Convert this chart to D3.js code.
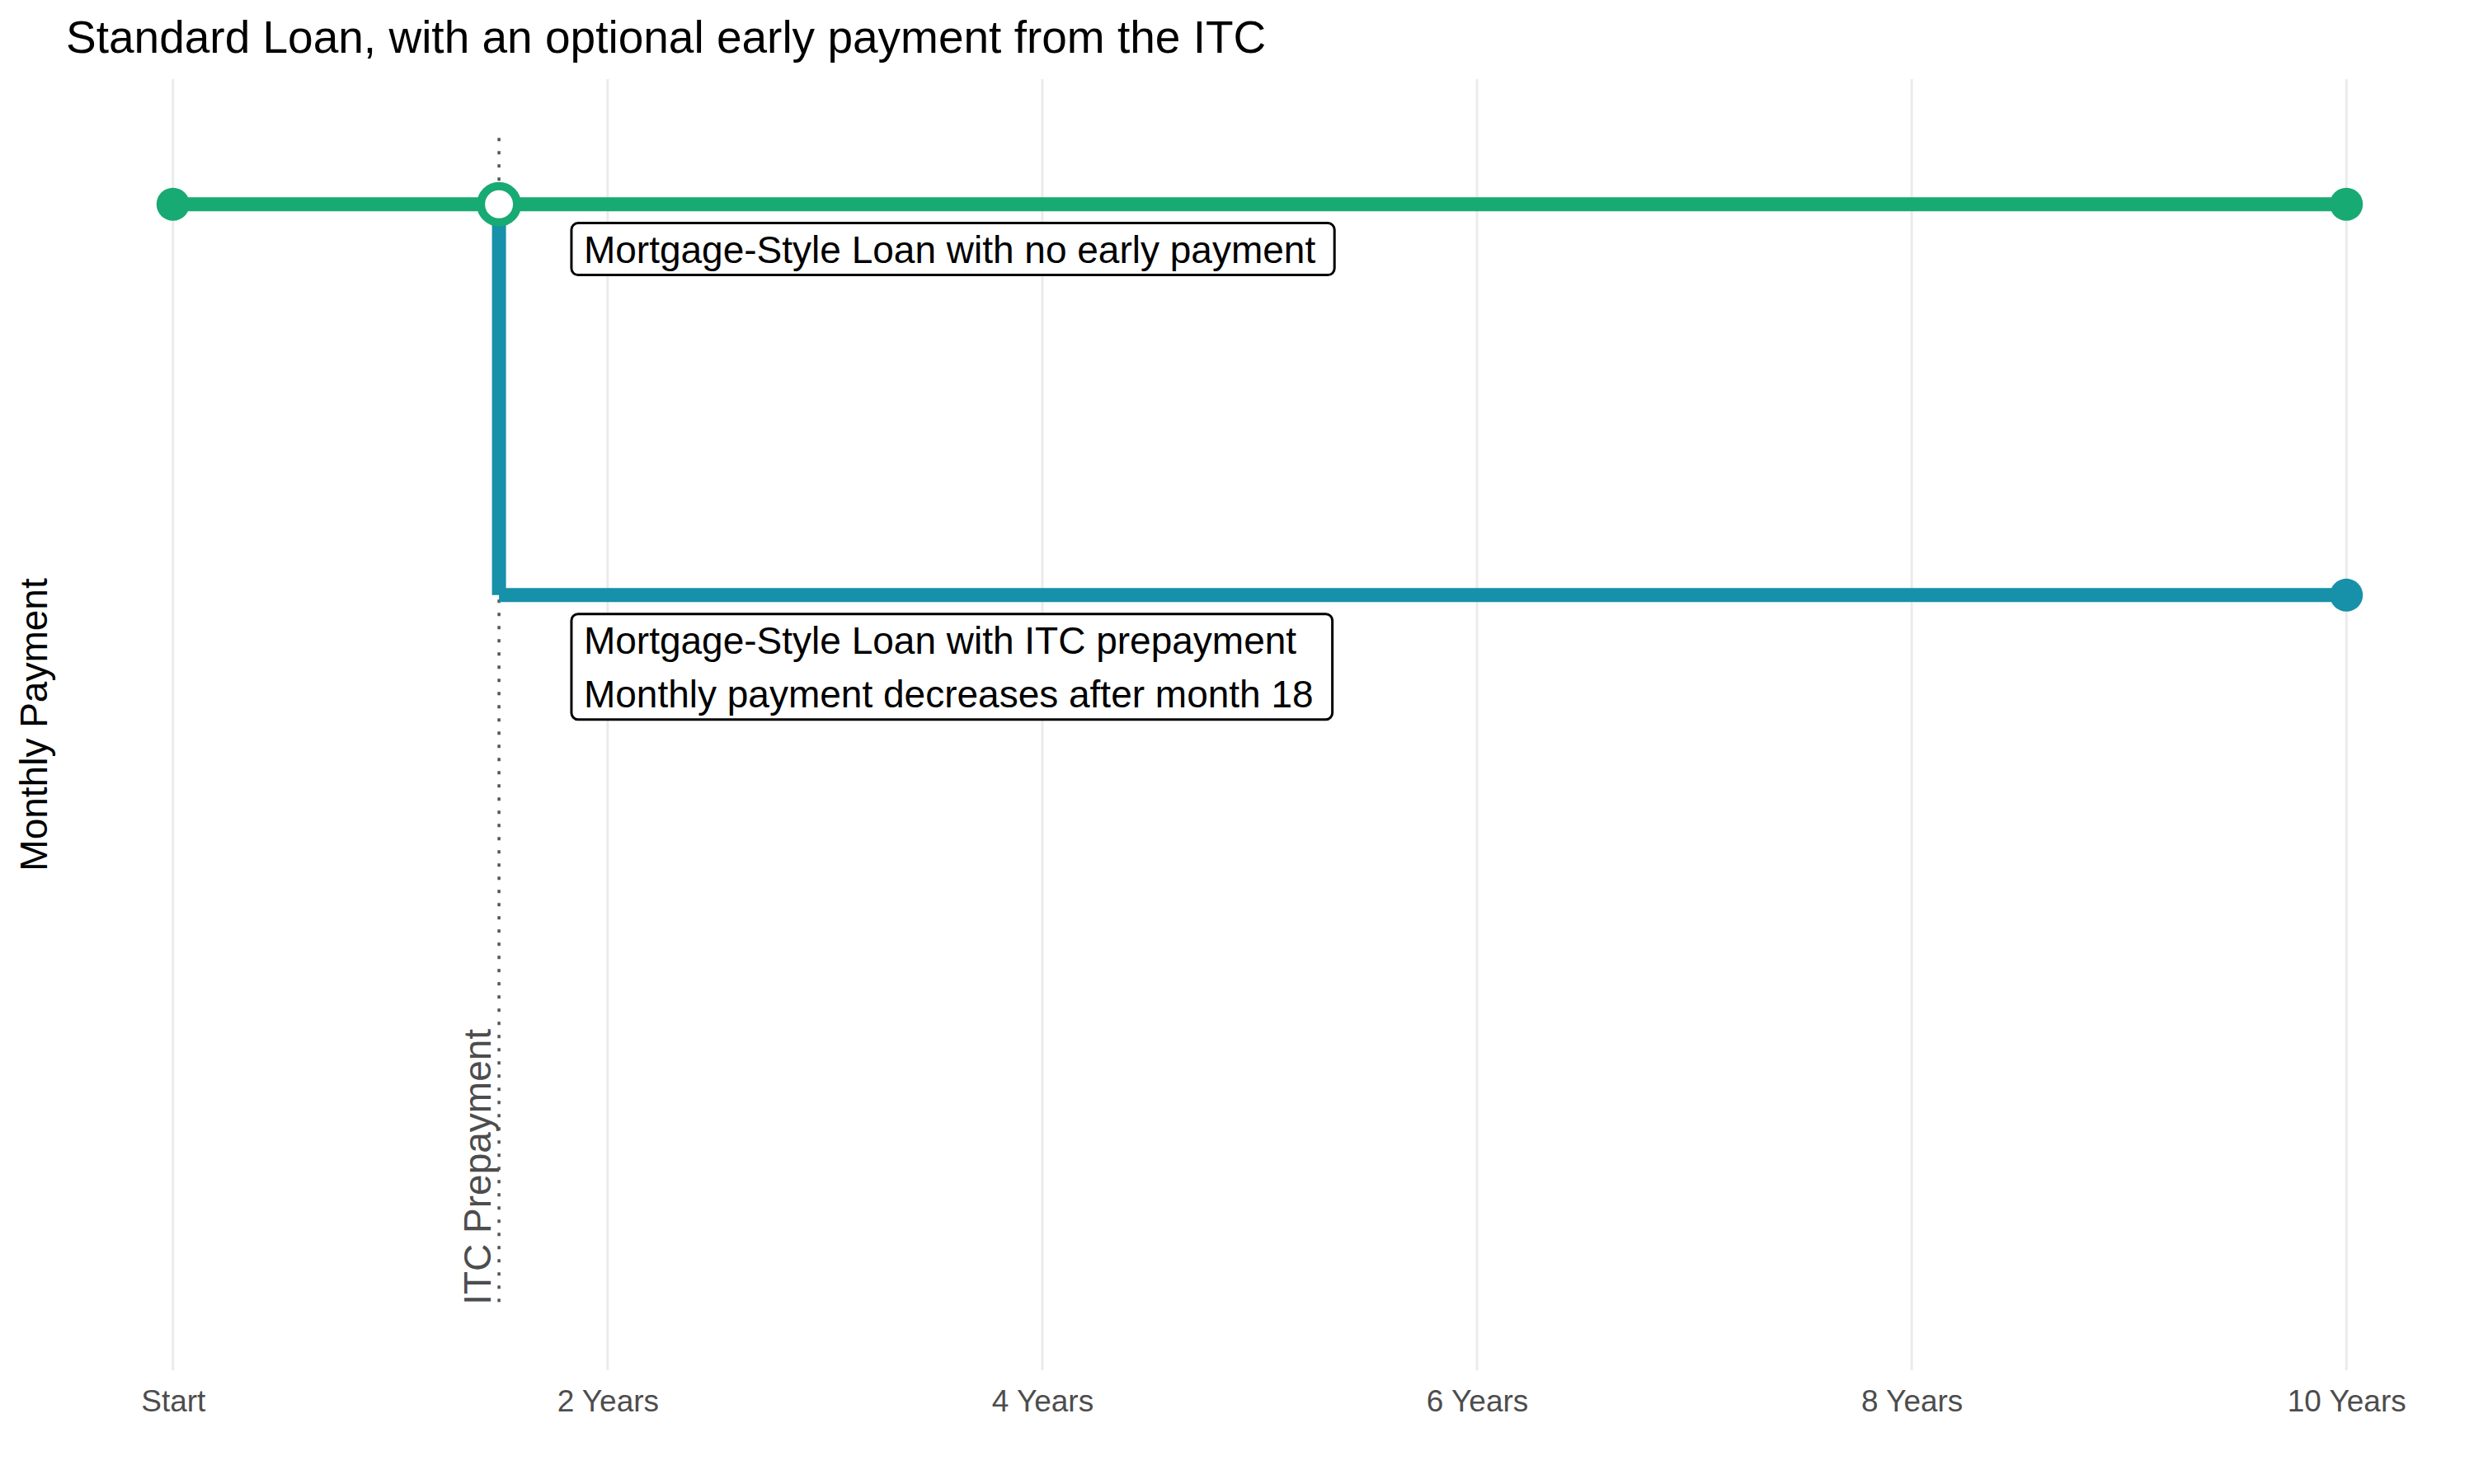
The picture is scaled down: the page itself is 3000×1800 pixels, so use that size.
<!DOCTYPE html>
<html>
<head>
<meta charset="utf-8">
<script src="https://cdn.jsdelivr.net/npm/d3@7"></script>
<style>
  html, body { margin: 0; padding: 0; background: #ffffff; }
  svg { display: block; font-family: "Liberation Sans", Arial, sans-serif; }
</style>
</head>
<body>
<svg id="chart" width="3000" height="1800"></svg>
<script>
// ---- data ----
const tickMonths = [0, 24, 48, 72, 96, 120];
const tickLabels = ["Start", "2 Years", "4 Years", "6 Years", "8 Years", "10 Years"];

// Mortgage-style loan, no early payment (months, monthly payment)
const noEarlyMonths = [0, 120];
const noEarlyPayment = [1000, 1000];

// Mortgage-style loan with ITC prepayment (drops after month 18)
const itcMonths = [18, 18, 120];
const itcPayment = [1000, 647, 647];

// ITC prepayment marker
const itcMarkerMonth = 18;
const itcMarkerRange = [0, 1060];
const itcMarkerLabel = "ITC Prepayment";
const itcMarkerLabelY = 6;

// annotation labels
const labelMonths = [22, 22];
const labelTops = [983, 630];
const labelTexts = [
  ["Mortgage-Style Loan with no early payment"],
  ["Mortgage-Style Loan with ITC prepayment", "Monthly payment decreases after month 18"]
];

const titleText = "Standard Loan, with an optional early payment from the ITC";
const yTitle = "Monthly Payment";

const green = "#18AA73";
const teal = "#1790A9";

// ---- layout ----
const svg = d3.select("#chart");
const panel = { left: 78, right: 2977, top: 96, bottom: 1662 };

const xData = [0, 120];
const xPad = (xData[1] - xData[0]) * 0.05;
const x = d3.scaleLinear().domain([xData[0] - xPad, xData[1] + xPad]).range([panel.left, panel.right]);

const yData = [itcMarkerRange[0], itcMarkerRange[1]];
const yPad = (yData[1] - yData[0]) * 0.05;
const y = d3.scaleLinear().domain([yData[0] - yPad, yData[1] + yPad]).range([panel.bottom, panel.top]);

// gridlines
svg.append("g").selectAll("line").data(tickMonths).join("line")
  .attr("x1", d => x(d)).attr("x2", d => x(d))
  .attr("y1", panel.top).attr("y2", panel.bottom)
  .attr("stroke", "#ebebeb").attr("stroke-width", 3);

// x axis
const xAxis = d3.axisBottom(x).tickValues(tickMonths)
  .tickFormat((d, i) => tickLabels[i]).tickSize(0).tickPadding(0);
const gx = svg.append("g").attr("transform", `translate(0,${panel.bottom})`).call(xAxis);
gx.select(".domain").remove();
gx.selectAll("text").attr("font-size", 37).attr("fill", "#4d4d4d")
  .attr("font-family", "Liberation Sans, Arial, sans-serif")
  .attr("dy", null).attr("y", 50);

// ITC prepayment dotted marker
svg.append("line")
  .attr("x1", x(itcMarkerMonth)).attr("x2", x(itcMarkerMonth))
  .attr("y1", y(itcMarkerRange[1])).attr("y2", y(itcMarkerRange[0]))
  .attr("stroke", "#555555").attr("stroke-width", 3.5)
  .attr("stroke-dasharray", "4 12");

svg.append("text")
  .attr("transform", `translate(${x(itcMarkerMonth) - 10},${y(itcMarkerLabelY)}) rotate(-90)`)
  .attr("text-anchor", "start")
  .attr("font-size", 46).attr("fill", "#4d4d4d")
  .text(itcMarkerLabel);

// series lines (drawn as segments)
function segs(mx, py) {
  const out = [];
  for (let i = 0; i < mx.length - 1; i++) out.push([mx[i], py[i], mx[i + 1], py[i + 1]]);
  return out;
}
svg.append("g").selectAll("line").data(segs(itcMonths, itcPayment)).join("line")
  .attr("x1", d => x(d[0])).attr("y1", d => y(d[1]))
  .attr("x2", d => x(d[2])).attr("y2", d => y(d[3]))
  .attr("stroke", teal).attr("stroke-width", 17).attr("stroke-linecap", "butt");

svg.append("g").selectAll("line").data(segs(noEarlyMonths, noEarlyPayment)).join("line")
  .attr("x1", d => x(d[0])).attr("y1", d => y(d[1]))
  .attr("x2", d => x(d[2])).attr("y2", d => y(d[3]))
  .attr("stroke", green).attr("stroke-width", 17).attr("stroke-linecap", "butt");

// end points
svg.append("g").selectAll("circle").data(noEarlyMonths.map((m, i) => [m, noEarlyPayment[i]])).join("circle")
  .attr("cx", d => x(d[0])).attr("cy", d => y(d[1])).attr("r", 20).attr("fill", green);
svg.append("circle")
  .attr("cx", x(itcMonths[itcMonths.length - 1])).attr("cy", y(itcPayment[itcPayment.length - 1]))
  .attr("r", 20).attr("fill", teal);
// open circle at prepayment point
svg.append("circle")
  .attr("cx", x(itcMonths[0])).attr("cy", y(itcPayment[0]))
  .attr("r", 22).attr("fill", "#ffffff").attr("stroke", green).attr("stroke-width", 10);

// labels
labelTexts.forEach((lines, i) => {
  const g = svg.append("g");
  const left = x(labelMonths[i]);
  const top = y(labelTops[i]);
  const rect = g.append("rect");
  let maxW = 0;
  lines.forEach((t, j) => {
    const tx = g.append("text")
      .attr("x", left + 15).attr("y", top + 48 + j * 65)
      .attr("font-size", 46).attr("fill", "#000000").text(t);
    maxW = Math.max(maxW, tx.node().getComputedTextLength());
  });
  const h = 48 + (lines.length - 1) * 65 + 15;
  rect.attr("x", left).attr("y", top).attr("width", maxW + 38).attr("height", h)
    .attr("rx", 8).attr("ry", 8)
    .attr("fill", "#ffffff").attr("stroke", "#000000").attr("stroke-width", 3);
});

// title
svg.append("text").attr("x", 80).attr("y", 64)
  .attr("font-size", 55).attr("fill", "#000000").text(titleText);

// y title
svg.append("text")
  .attr("transform", `translate(57,${(panel.top + panel.bottom) / 2}) rotate(-90)`)
  .attr("text-anchor", "middle").attr("font-size", 46).attr("fill", "#000000")
  .text(yTitle);
</script>
</body>
</html>
